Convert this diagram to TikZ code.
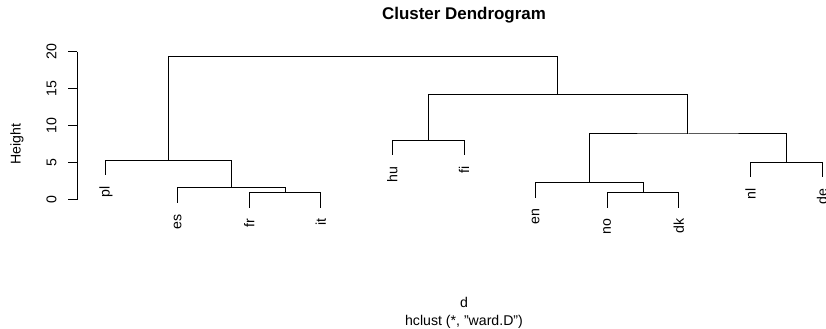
\documentclass[tikz,border=0pt]{standalone}
\usepackage{fontspec}
\setmainfont{Liberation Sans}
\usetikzlibrary{calc}

\begin{document}
\begin{tikzpicture}[x=53.7pt, y=5.561pt, line width=0.75pt,
  txt/.style={inner sep=0pt, font=\fontsize{10.6}{12}\selectfont},
  leaf/.style={txt, rotate=90, anchor=east},
  link/.style={draw, line cap=rect}]
\useasboundingbox (-1.4804,-17.397) rectangle (10.0559,26.972);

% height axis
\draw (-0.4008,0) -- (-0.4008,20);
\foreach \t in {0,5,10,15,20} {
  \draw (-0.4008,\t) -- ++(-0.1257,0);
  \node[txt, rotate=90] (tick\t) at (-0.761,\t) {\t};
}
\node[txt, rotate=90] (ylab) at (-1.245,7.55) {Height};

% leaf tips, hanging below their first merge
\foreach \lab/\x/\h in {pl/0/3.37, es/1/-0.31, fr/2/-0.95, it/3/-0.95,
    hu/4/6.07, fi/5/6.07, en/6/0.40, no/7/-0.95, dk/8/-0.95,
    nl/9/3.10, de/10/3.10} {
  \coordinate (\lab) at (\x,\h);
  \node[leaf] (lab-\lab) at ([yshift=-8.5pt]\lab) {\lab};
}

% merges
\coordinate (m1) at (2.5,0.98);
\coordinate (m2) at (1.75,1.62);
\coordinate (m3) at (0.875,5.30);
\coordinate (m4) at (4.5,8.00);
\coordinate (m5) at (7.5,0.98);
\coordinate (m6) at (6.75,2.33);
\coordinate (m7) at (9.5,5.03);
\coordinate (m8) at (8.125,8.90);
\coordinate (m9) at (6.3125,14.25);
\coordinate (m10) at (3.59375,19.33);

\draw[link] (fr) |- (m1) -| (it);
\draw[link] (es) |- (m2) -| (m1);
\draw[link] (pl) |- (m3) -| (m2);
\draw[link] (hu) |- (m4) -| (fi);
\draw[link] (no) |- (m5) -| (dk);
\draw[link] (en) |- (m6) -| (m5);
\draw[link] (nl) |- (m7) -| (de);
\draw[link] (m6) |- (m8) -| (m7);
\draw[link] (m4) |- (m9) -| (m8);
\draw[link] (m3) |- (m10) -| (m9);

% titles
\node[txt, font=\fontsize{12.7}{14}\selectfont\bfseries] (title) at (5,24.95) {Cluster Dendrogram};
\node[txt] (xlab) at (5,-13.85) {d};
\node[txt] (sub) at (5,-16.41) {hclust (*, "ward.D")};
\end{tikzpicture}
\end{document}
